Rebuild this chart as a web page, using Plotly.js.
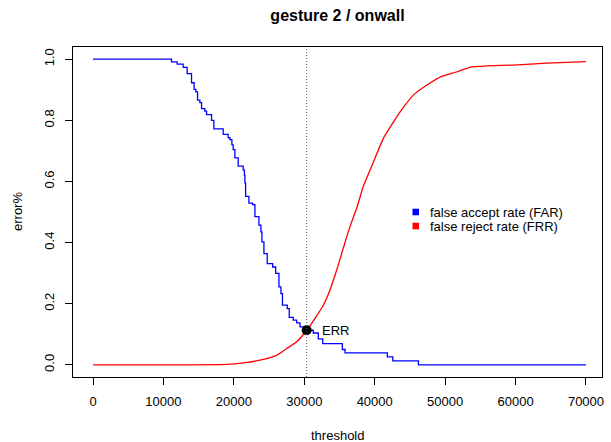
<!DOCTYPE html>
<html>
<head>
<meta charset="utf-8">
<script src="https://cdn.plot.ly/plotly-3.0.1.min.js"></script>
<style>html,body{margin:0;padding:0;background:#fff;}#chart{width:611px;height:442px;}</style>
</head>
<body>
<div id="chart"></div>
<script>
// FAR (false accept rate) step curve
var farT = [0, 11146, 11942, 12795, 13364, 13990, 14359, 14601, 14843, 15170, 15411, 15880, 16122, 16833, 17160, 18482, 19193, 19435, 19720, 19904, 20146, 20615, 21326, 21497, 21570, 21667, 22136, 22662, 22989, 23558, 23842, 23985, 24269, 24738, 25505, 25932, 26401, 26685, 26899, 27581, 27866, 28434, 28918, 29387, 29956, 31277, 31988, 32614, 35400, 35784, 41798, 42566, 46205, 70000];
var farV = [1.0, 0.991, 0.984, 0.973, 0.953, 0.923, 0.901, 0.893, 0.866, 0.858, 0.838, 0.830, 0.819, 0.800, 0.772, 0.754, 0.743, 0.737, 0.720, 0.704, 0.677, 0.650, 0.637, 0.620, 0.595, 0.551, 0.529, 0.524, 0.485, 0.457, 0.435, 0.402, 0.364, 0.331, 0.320, 0.299, 0.255, 0.233, 0.195, 0.184, 0.155, 0.146, 0.137, 0.124, 0.113, 0.104, 0.085, 0.069, 0.050, 0.039, 0.026, 0.013, 0.0, 0.0];
// FRR (false reject rate) curve
var frrT = [0, 18966, 21326, 23700, 26074, 27496, 28918, 30340, 31519, 32699, 33652, 34604, 35543, 36495, 37447, 38386, 39808, 41230, 42538, 43960, 45595, 47585, 49434, 51708, 53798, 55931, 59713, 64462, 70000];
var frrV = [0, 0.001, 0.006, 0.015, 0.031, 0.053, 0.075, 0.113, 0.152, 0.195, 0.245, 0.310, 0.382, 0.453, 0.513, 0.584, 0.663, 0.741, 0.790, 0.839, 0.885, 0.918, 0.943, 0.959, 0.975, 0.978, 0.981, 0.987, 0.992];
// Equal error rate point
var errT = [30340];
var errV = [0.113];
var xTicks = [0, 10000, 20000, 30000, 40000, 50000, 60000, 70000];
var yTicks = [0.0, 0.2, 0.4, 0.6, 0.8, 1.0];
var legendLabels = ["false accept rate (FAR)", "false reject rate (FRR)"];
var legendColors = ["#0000ff", "#ff0000"];

var FONT = "Liberation Sans, Arial, Helvetica, sans-serif";

var traces = [
  {x: farT, y: farV, type: "scatter", mode: "lines", line: {color: "#0000ff", width: 1.3, shape: "hv"}, showlegend: false, hoverinfo: "skip"},
  {x: frrT, y: frrV, type: "scatter", mode: "lines", line: {color: "#ff0000", width: 1.3, shape: "spline", smoothing: 0.6}, showlegend: false, hoverinfo: "skip"},
  {x: errT, y: errV, type: "scatter", mode: "markers", marker: {color: "#000", size: 10}, showlegend: false, hoverinfo: "skip", cliponaxis: false}
];

// plot area in pixels: x 73..602, y 47..377
function px2paperX(px){ return (px - 73) / 529; }
function px2paperY(py){ return (377 - py) / 330; }

var shapes = [
  {type: "line", xref: "x", yref: "paper", x0: errT[0], x1: errT[0], y0: 0, y1: 1, line: {color: "#555", width: 1, dash: "1px,2px"}}
];
var annotations = [
  {x: errT[0], y: errV[0], xref: "x", yref: "y", text: "ERR", showarrow: false, xanchor: "left", yanchor: "middle", xshift: 13, font: {family: FONT, size: 13, color: "#000"}},
  {x: 0.5, y: px2paperY(435), xref: "paper", yref: "paper", text: "threshold", showarrow: false, xanchor: "center", yanchor: "middle", font: {family: FONT, size: 13, color: "#000"}},
  {x: px2paperX(17), y: 0.5, xref: "paper", yref: "paper", text: "error%", textangle: -90, showarrow: false, xanchor: "center", yanchor: "middle", font: {family: FONT, size: 13, color: "#000"}}
];
var legY = [212, 226];
for (var i = 0; i < legendLabels.length; i++) {
  shapes.push({type: "rect", xref: "paper", yref: "paper",
    x0: px2paperX(412.5), x1: px2paperX(419), y0: px2paperY(legY[i] + 3.3), y1: px2paperY(legY[i] - 3.3),
    fillcolor: legendColors[i], line: {width: 0}});
  annotations.push({x: px2paperX(428), y: px2paperY(legY[i]), xref: "paper", yref: "paper", text: legendLabels[i],
    showarrow: false, xanchor: "left", yanchor: "middle", font: {family: FONT, size: 13, color: "#000"}});
}

var layout = {
  width: 611, height: 442,
  margin: {l: 73, r: 9, t: 47, b: 65},
  paper_bgcolor: "#fff", plot_bgcolor: "#fff",
  showlegend: false,
  title: {text: "<b>gesture 2 / onwall</b>", x: 337.5 / 611, xanchor: "center", y: 1 - 15.5 / 442, yanchor: "middle", yref: "container", xref: "container", font: {family: FONT, size: 16, color: "#000"}},
  xaxis: {range: [-2843, 72275], tickvals: xTicks, ticktext: xTicks.map(String), ticks: "outside", ticklen: 7, tickcolor: "#000", tickwidth: 1,
    showline: true, mirror: true, linecolor: "#000", linewidth: 1, showgrid: false, zeroline: false, ticklabelstandoff: 5,
    tickfont: {family: FONT, size: 13, color: "#000"}, fixedrange: true},
  yaxis: {range: [-0.04, 1.04], tickvals: yTicks, ticktext: yTicks.map(function(v){return v.toFixed(1);}), ticks: "outside", ticklen: 7, tickcolor: "#000", tickwidth: 1,
    tickangle: -90, showline: true, mirror: true, linecolor: "#000", linewidth: 1, showgrid: false, zeroline: false, ticklabelstandoff: 6,
    tickfont: {family: FONT, size: 13, color: "#000"}, fixedrange: true},
  shapes: shapes,
  annotations: annotations
};

Plotly.newPlot("chart", traces, layout, {staticPlot: true, displayModeBar: false});
</script>
</body>
</html>
